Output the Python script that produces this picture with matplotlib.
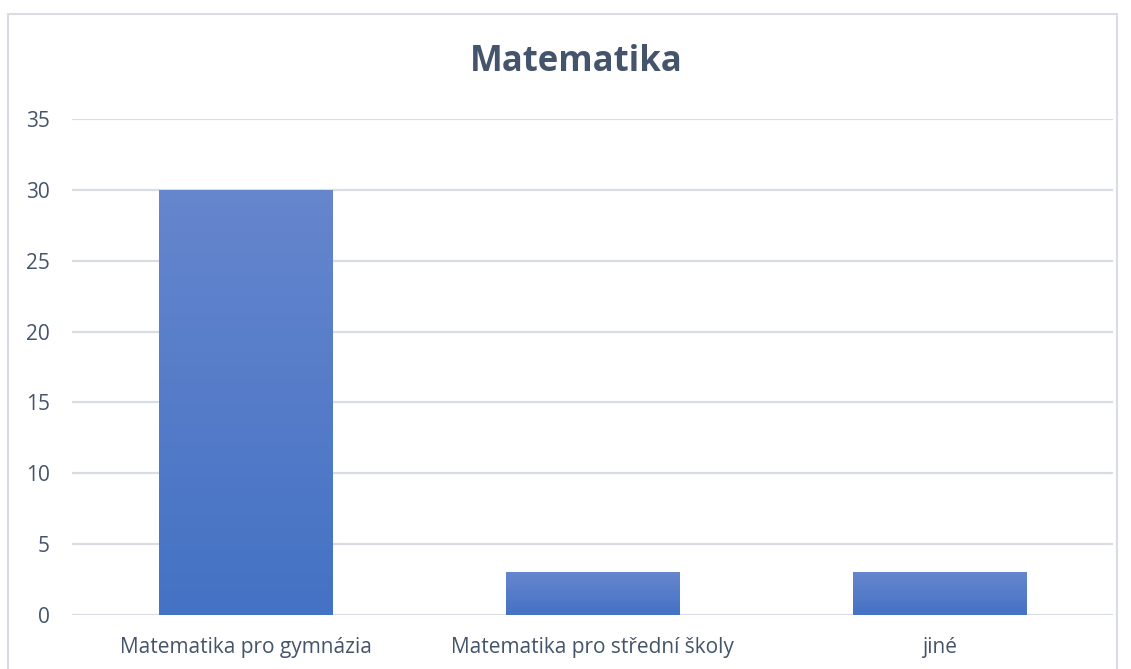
import numpy as np
import matplotlib
matplotlib.use("Agg")
import matplotlib.pyplot as plt
from matplotlib.colors import LinearSegmentedColormap
from matplotlib.patches import Rectangle

categories = ["Matematika pro gymnázia", "Matematika pro střední školy", "jiné"]
values = [30, 3, 3]
yticks = [0, 5, 10, 15, 20, 25, 30, 35]

plt.rcParams['font.family'] = ['Open Sans', 'DejaVu Sans']
text_col = "#44546A"

fig = plt.figure(figsize=(11.31, 6.69), dpi=100)
# chart border
fig.patches.append(Rectangle((8 / 1131, -0.05), (1117 - 8) / 1131, 1.05 - 14 / 669,
                             transform=fig.transFigure, fill=False,
                             edgecolor="#D9DDE3", linewidth=1.5))

ax = fig.add_axes([72 / 1131, 1 - 615 / 669, (1113 - 72) / 1131, (615 - 119) / 669])
x = np.arange(len(categories))

cmap = LinearSegmentedColormap.from_list("bar", ["#4472C4", "#6686CE"])
grad = np.linspace(0, 1, 256).reshape(-1, 1)
bars = ax.bar(x, values, width=0.5, color="none", zorder=3)
for b in bars:
    x0, y0 = b.get_x(), b.get_y()
    w, h = b.get_width(), b.get_height()
    im = ax.imshow(grad, cmap=cmap, origin="lower", aspect="auto",
                   extent=[x0, x0 + w, y0, y0 + h], zorder=3)
    im.set_clip_path(b)

ax.set_aspect("auto")
ax.set_xlim(-0.5, len(categories) - 0.5)
ax.set_ylim(0, 35)
ax.set_yticks(yticks)
ax.set_xticks(x)
ax.set_xticklabels(categories)
ax.grid(axis="y", color="#D9DDE3", linewidth=1.6, zorder=0)
ax.set_axisbelow(True)
for s in ax.spines.values():
    s.set_visible(False)
ax.tick_params(length=0, labelsize=15, colors=text_col)
ax.tick_params(axis="y", pad=16)
ax.tick_params(axis="x", pad=16)

fig.text(576 / 1131, 1 - 62 / 669, "Matematika", ha="center", va="center",
         fontsize=25, fontweight="bold", color=text_col)

fig.savefig("out.png", dpi=100, facecolor="white")
